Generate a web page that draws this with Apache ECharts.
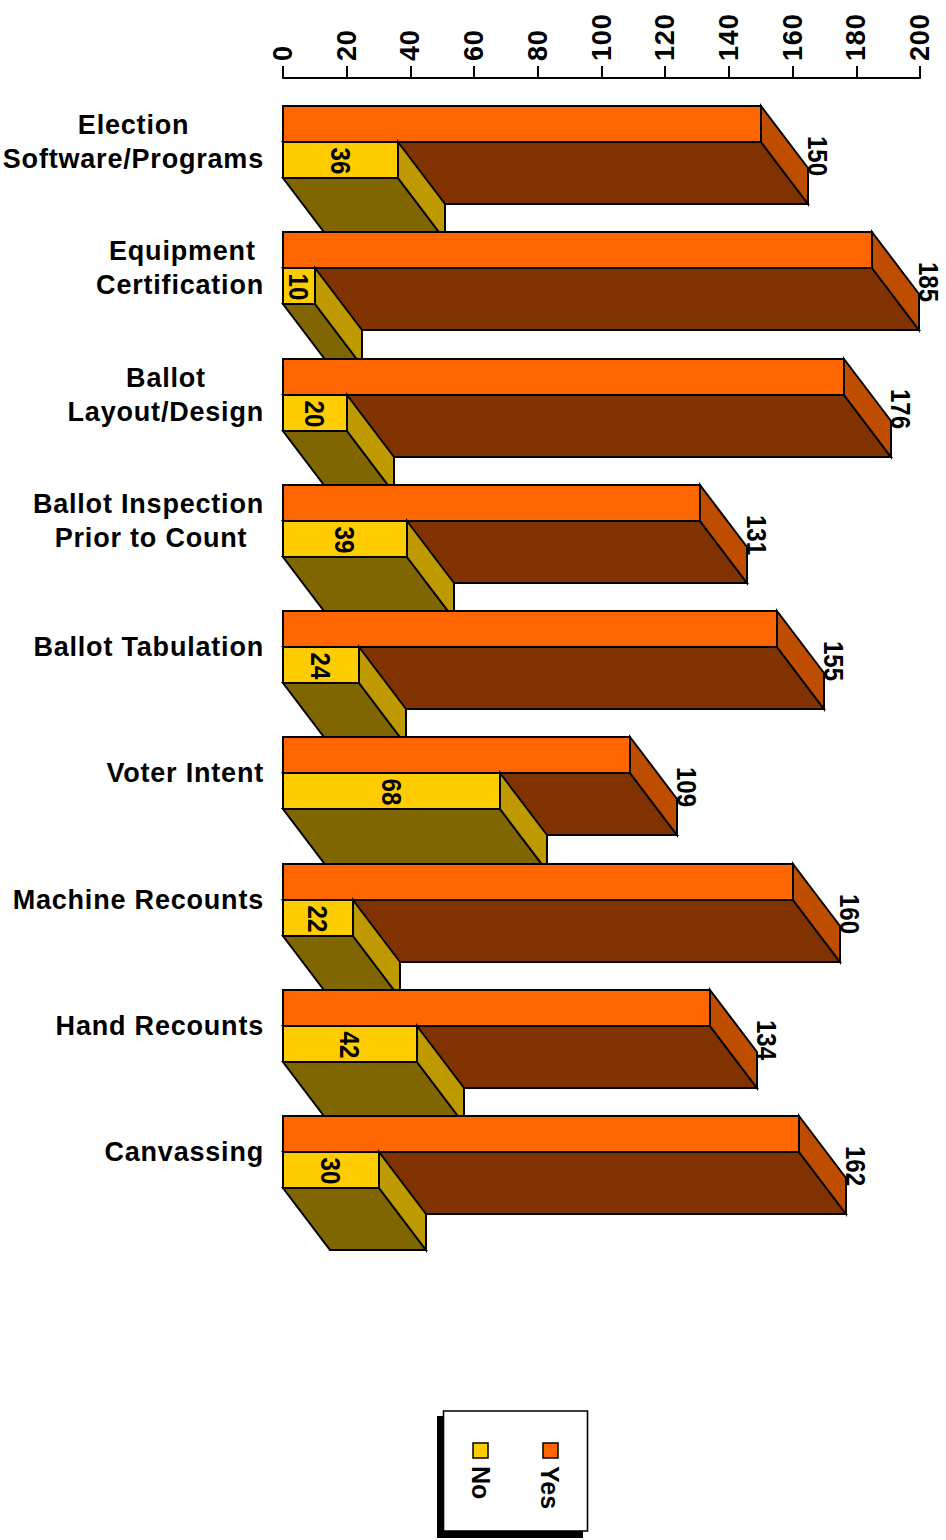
<!DOCTYPE html>
<html>
<head>
<meta charset="utf-8">
<style>
html,body{margin:0;padding:0;background:#fff}
#c{width:946px;height:1540px}
svg text{letter-spacing:0.8px;white-space:pre}
svg text[style*="25px"],svg text[style*="28px"]{letter-spacing:0}
</style>
<script src="https://cdn.jsdelivr.net/npm/echarts@6/dist/echarts.min.js"></script>
</head>
<body>
<div id="c"></div>
<script>
const categories = [
  'Election\nSoftware/Programs',
  'Equipment\nCertification',
  'Ballot\nLayout/Design',
  'Ballot Inspection\nPrior to Count',
  'Ballot Tabulation',
  'Voter Intent',
  'Machine Recounts',
  'Hand Recounts',
  'Canvassing'
];
const yesValues = [150, 185, 176, 131, 155, 109, 160, 134, 162];
const noValues = [36, 10, 20, 39, 24, 68, 22, 42, 30];

const FONT = '"Liberation Sans", Arial, sans-serif';
const FS = 27, SPACING = 0.8;
const YES = { front: '#FF6600', side: '#BF4D00', floor: '#803300' };
const NO = { front: '#FFCC00', side: '#BF9900', floor: '#806600' };
const DX = 47, DY = 62, THICK = 36, LW = 2;

// centre the lines of a right-aligned label block by padding with trailing spaces
const mctx = document.createElement('canvas').getContext('2d');
mctx.font = 'bold ' + FS + 'px ' + FONT;
function centreLines(s) {
  const lines = s.split('\n');
  const widths = lines.map(l => mctx.measureText(l).width + l.length * SPACING);
  const mx = Math.max(...widths), sp = mctx.measureText(' ').width + SPACING;
  return lines.map((l, i) => l + ' '.repeat(Math.round((mx - widths[i]) / 2 / sp))).join('\n');
}

function barItem(colors, slot, order) {
  return function (params, api) {
    const i = api.value(1), v = api.value(0);
    const c = api.coord([v, i]), o = api.coord([0, i]);
    const top = Math.round(c[1] - THICK + slot * THICK), bot = top + THICK;
    const x0 = Math.round(o[0]), x1 = Math.round(c[0]);
    const z = i * 10 + order;
    const poly = (pts, fill) => ({
      type: 'polygon', z2: z,
      shape: { points: pts },
      style: { fill: fill, stroke: '#000', lineWidth: LW, lineJoin: 'miter' }
    });
    const labelPos = slot === 0
      ? [x1 + DX + 10, top + 50]
      : [(x0 + x1) / 2, top + 19];
    return {
      type: 'group',
      children: [
        poly([[x0, bot], [x1, bot], [x1 + DX, bot + DY], [x0 + DX, bot + DY]], colors.floor),
        poly([[x1, top], [x1 + DX, top + DY], [x1 + DX, bot + DY], [x1, bot]], colors.side),
        poly([[x0, top], [x1, top], [x1, bot], [x0, bot]], colors.front),
        {
          type: 'text', z2: 1000, x: labelPos[0], y: labelPos[1], rotation: -Math.PI / 2, scaleX: 0.86,
          style: {
            text: String(v), fill: '#000', align: 'center', verticalAlign: 'middle',
            fontFamily: FONT, fontWeight: 'bold', fontSize: 28
          }
        }
      ]
    };
  };
}

const chart = echarts.init(document.getElementById('c'), null, { renderer: 'svg', width: 946, height: 1540 });

function legendText(x, y, t) {
  return {
    type: 'text', x: x, y: y, rotation: -Math.PI / 2, z: 10,
    style: {
      text: t, fill: '#000', align: 'left', verticalAlign: 'middle',
      fontFamily: FONT, fontWeight: 'bold', fontSize: 25
    }
  };
}
function legendSwatch(x, y, fill) {
  return {
    type: 'rect', z: 10, shape: { x: x, y: y, width: 15, height: 15 },
    style: { fill: fill, stroke: '#000', lineWidth: 1.5 }
  };
}

chart.setOption({
  animation: false,
  backgroundColor: '#fff',
  textStyle: { fontFamily: FONT },
  grid: { left: 283, top: 79, width: 637, height: 1136.25, containLabel: false },
  xAxis: {
    type: 'value', position: 'top', min: 0, max: 200, interval: 20, offset: 1,
    splitLine: { show: false },
    axisLine: { show: true, lineStyle: { color: '#000', width: 2 } },
    axisTick: { show: true, length: 12, lineStyle: { color: '#000', width: 2 } },
    axisLabel: {
      rotate: -90, margin: 17, color: '#000', fontFamily: FONT, fontWeight: 'bold', fontSize: FS,
      showMinLabel: true, showMaxLabel: true
    }
  },
  yAxis: {
    type: 'category', inverse: true, data: categories,
    axisLine: { show: false }, axisTick: { show: false }, splitLine: { show: false },
    axisLabel: {
      interval: 0, margin: 19, color: '#000', align: 'right', lineHeight: 34,
      fontFamily: FONT, fontWeight: 'bold', fontSize: FS,
      formatter: centreLines
    }
  },
  series: [
    {
      name: 'Yes', type: 'custom', coordinateSystem: 'cartesian2d',
      renderItem: barItem(YES, 0, 0),
      encode: { x: 0, y: 1 },
      data: yesValues.map((v, i) => [v, i])
    },
    {
      name: 'No', type: 'custom', coordinateSystem: 'cartesian2d',
      renderItem: barItem(NO, 1, 1),
      encode: { x: 0, y: 1 },
      data: noValues.map((v, i) => [v, i])
    }
  ],
  graphic: [
    { type: 'rect', z: 9, shape: { x: 437, y: 1416, width: 146, height: 122 }, style: { fill: '#000' } },
    { type: 'rect', z: 9, shape: { x: 443.5, y: 1411, width: 144, height: 120 }, style: { fill: '#fff', stroke: '#000', lineWidth: 1.6 } },
    legendSwatch(473, 1443, NO.front),
    legendSwatch(543, 1443, YES.front),
    legendText(481, 1466, 'No'),
    legendText(550, 1466, 'Yes')
  ]
});
</script>
</body>
</html>
